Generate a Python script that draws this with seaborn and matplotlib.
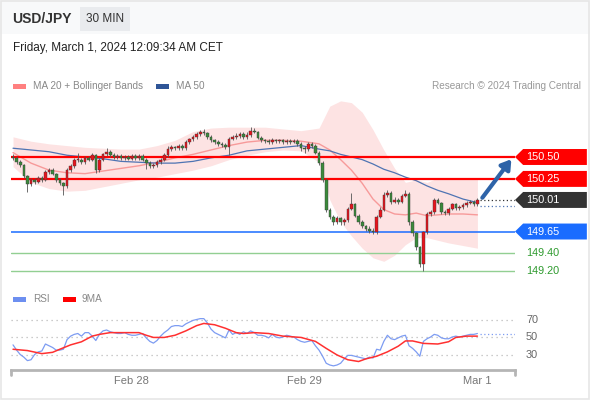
import numpy as np
import pandas as pd
import matplotlib.pyplot as plt
from matplotlib.patches import Polygon, Rectangle
import seaborn as sns

sns.set_style("white")
plt.rcParams['font.family'] = ['Liberation Sans', 'DejaVu Sans']

# ---- data (30 min candles, Feb 27 07:30 -> Mar 1 00:00) ----
first_open = 150.50
closes = [150.49, 150.44, 150.41, 150.28, 150.19, 150.24, 150.21, 150.26, 150.24, 150.33,
          150.35, 150.31, 150.24, 150.20, 150.17, 150.35, 150.40, 150.47, 150.47, 150.44,
          150.49, 150.47, 150.52, 150.35, 150.47, 150.53, 150.56, 150.52, 150.50, 150.51,
          150.49, 150.50, 150.48, 150.51, 150.49, 150.51, 150.47, 150.43, 150.40, 150.41,
          150.44, 150.47, 150.52, 150.59, 150.61, 150.60, 150.63, 150.60, 150.67, 150.70,
          150.73, 150.76, 150.79, 150.77, 150.73, 150.69, 150.67, 150.65, 150.64, 150.61,
          150.71, 150.73, 150.74, 150.76, 150.73, 150.75, 150.80, 150.79, 150.72, 150.69,
          150.68, 150.67, 150.69, 150.68, 150.69, 150.67, 150.68, 150.67, 150.68, 150.65,
          150.60, 150.59, 150.65, 150.63, 150.55, 150.43, 150.24, 149.90, 149.82, 149.76,
          149.80, 149.76, 149.78, 149.91, 149.96, 149.83, 149.76, 149.71, 149.68, 149.66,
          149.64, 149.82, 149.90, 150.07, 150.09, 149.99, 150.01, 149.99, 150.06, 150.08,
          149.76, 149.63, 149.47, 149.28, 149.64, 149.85, 149.87, 150.01, 149.98, 149.87,
          149.86, 149.91, 149.96, 149.92, 149.93, 149.95, 149.98, 149.99, 149.96, 150.01]
highs = [150.53, 150.51, 150.46, 150.42, 150.30, 150.26, 150.26, 150.28, 150.28, 150.35,
         150.38, 150.37, 150.32, 150.26, 150.21, 150.37, 150.42, 150.49, 150.54, 150.49,
         150.51, 150.51, 150.54, 150.53, 150.49, 150.55, 150.60, 150.58, 150.54, 150.53,
         150.53, 150.52, 150.52, 150.53, 150.53, 150.53, 150.53, 150.49, 150.45, 150.43,
         150.46, 150.49, 150.54, 150.62, 150.64, 150.63, 150.65, 150.65, 150.69, 150.72,
         150.75, 150.78, 150.81, 150.82, 150.79, 150.75, 150.71, 150.69, 150.67, 150.66,
         150.73, 150.75, 150.77, 150.79, 150.78, 150.78, 150.84, 150.83, 150.80, 150.74,
         150.71, 150.70, 150.72, 150.71, 150.71, 150.71, 150.70, 150.70, 150.70, 150.70,
         150.67, 150.62, 150.67, 150.67, 150.65, 150.57, 150.45, 150.26, 149.92, 149.84,
         149.83, 149.82, 149.80, 149.93, 150.09, 149.98, 149.85, 149.78, 149.73, 149.71,
         149.69, 149.84, 149.93, 150.10, 150.12, 150.11, 150.04, 150.03, 150.08, 150.12,
         150.10, 149.78, 149.65, 149.49, 149.66, 149.87, 149.90, 150.03, 150.03, 149.99,
         149.89, 149.93, 149.98, 149.98, 149.95, 149.97, 150.00, 150.01, 150.01, 150.03]
lows = [150.46, 150.42, 150.39, 150.26, 150.10, 150.17, 150.19, 150.20, 150.22, 150.23,
        150.31, 150.29, 150.22, 150.18, 150.07, 150.15, 150.33, 150.38, 150.44, 150.42,
        150.42, 150.45, 150.45, 150.32, 150.33, 150.45, 150.51, 150.50, 150.48, 150.48,
        150.47, 150.47, 150.46, 150.46, 150.47, 150.47, 150.45, 150.36, 150.38, 150.37,
        150.39, 150.42, 150.45, 150.50, 150.57, 150.58, 150.58, 150.58, 150.58, 150.65,
        150.68, 150.71, 150.74, 150.75, 150.71, 150.67, 150.65, 150.63, 150.61, 150.59,
        150.52, 150.69, 150.71, 150.72, 150.71, 150.71, 150.73, 150.77, 150.70, 150.67,
        150.66, 150.65, 150.65, 150.66, 150.66, 150.65, 150.65, 150.65, 150.66, 150.63,
        150.57, 150.55, 150.57, 150.60, 150.53, 150.41, 150.21, 149.87, 149.79, 149.73,
        149.74, 149.73, 149.73, 149.76, 149.89, 149.81, 149.74, 149.69, 149.66, 149.63,
        149.62, 149.62, 149.80, 149.88, 150.04, 149.96, 149.97, 149.96, 149.97, 150.04,
        149.73, 149.60, 149.44, 149.24, 149.20, 149.62, 149.83, 149.85, 149.96, 149.85,
        149.84, 149.84, 149.89, 149.90, 149.90, 149.91, 149.93, 149.96, 149.94, 149.94]

# overlays read at a subset of candles
ov_idx = [0, 5, 10, 15, 20, 25, 30, 35, 40, 45, 50, 55, 60, 65, 70, 75, 80, 85, 88, 91,
          94, 97, 100, 103, 106, 109, 112, 115, 118, 121, 125, 129]
ma20 = [150.55, 150.43, 150.35, 150.32, 150.31, 150.34, 150.37, 150.40, 150.44, 150.49,
        150.53, 150.58, 150.63, 150.67, 150.69, 150.69, 150.68, 150.65, 150.58, 150.47,
        150.35, 150.20, 150.02, 149.90, 149.85, 149.84, 149.86, 149.83, 149.84, 149.85,
        149.85, 149.84]
ma50 = [150.60, 150.58, 150.56, 150.52, 150.50, 150.48, 150.45, 150.44, 150.43, 150.43,
        150.45, 150.49, 150.52, 150.57, 150.59, 150.61, 150.63, 150.59, 150.57, 150.53,
        150.50, 150.47, 150.42, 150.36, 150.32, 150.27, 150.23, 150.17, 150.12, 150.08,
        150.02, 149.98]
bb_upper = [150.73, 150.68, 150.65, 150.63, 150.61, 150.60, 150.59, 150.59, 150.63, 150.69,
            150.79, 150.83, 150.84, 150.84, 150.84, 150.82, 150.80, 150.83, 151.08, 151.14,
            151.12, 151.01, 150.81, 150.58, 150.37, 150.21, 150.24, 150.21, 150.26, 150.26,
            150.26, 150.26]
bb_lower = [150.39, 150.21, 150.14, 150.11, 150.12, 150.16, 150.20, 150.24, 150.27, 150.31,
            150.35, 150.40, 150.47, 150.52, 150.56, 150.58, 150.57, 150.44, 150.01, 149.76,
            149.60, 149.46, 149.35, 149.31, 149.38, 149.50, 149.58, 149.58, 149.55, 149.52,
            149.49, 149.46]

rsi = [41, 35, 30, 27, 23, 24, 30, 33, 34, 42, 40, 38, 35, 35, 36, 47, 51, 53, 54, 51,
       55, 55, 51, 46, 53, 57, 58, 56, 55, 54, 54, 55, 53, 52, 52, 53, 54, 49, 45, 43,
       46, 51, 55, 58, 62, 63, 63, 62, 65, 67, 69, 70, 71, 71, 66, 59, 55, 53, 51, 49,
       58, 53, 55, 53, 56, 54, 57, 55, 52, 52, 51, 49, 53, 50, 49, 50, 52, 51, 50, 47,
       45, 44, 45, 46, 40, 35, 28, 20, 18, 17, 18, 20, 25, 29, 29, 28, 27, 26, 25, 27,
       26, 36, 35, 45, 52, 48, 47, 49, 51, 52, 40, 37, 33, 28, 45, 48, 50, 53, 52, 49,
       48, 48, 50, 51, 50, 51, 52, 53, 53, 54]
ma9_idx = [0, 4, 8, 11, 13, 16, 19, 22, 24, 27, 30, 33, 35, 37, 39, 42, 45, 48, 51, 53,
           56, 59, 62, 64, 67, 71, 75, 80, 84, 87, 90, 93, 96, 98, 101, 104, 107, 109, 111, 114,
           118, 121, 123, 126, 129]
ma9 = [36, 34.5, 31, 32.5, 36, 41, 44.5, 51, 53, 55, 55, 55, 55, 52, 49.5, 49.5, 52, 57, 63, 65.5,
       64, 60, 55, 54, 55, 54, 51, 49.5, 45, 37, 29.5, 24, 22, 25, 28, 33, 39.5, 45.5, 45.5, 42.7,
       42, 44.6, 49.5, 51, 51]

levels = [150.50, 150.25, 150.01, 149.65, 149.40, 149.20]
level_kind = ['res', 'res', 'last', 'sup', 'sup2', 'sup2']
tick_pos = [33, 81, 129]
tick_labels = ['Feb 28', 'Feb 29', 'Mar 1']

candles = pd.DataFrame({'close': closes, 'high': highs, 'low': lows})
candles['open'] = [first_open] + closes[:-1]
candles['idx'] = np.arange(len(candles))
ov = pd.DataFrame({'idx': ov_idx, 'ma20': ma20, 'ma50': ma50, 'up': bb_upper, 'lo': bb_lower})

W, H = 590, 400
fig = plt.figure(figsize=(5.9, 4.0), dpi=100)


def fx(x):
    return x / W


def fy(y):
    return 1 - y / H


# header strip
fig.patches.append(Rectangle((0, fy(34)), 1, 34 / H, transform=fig.transFigure,
                             facecolor='#f8f9fa', edgecolor='none', zorder=0))
fig.patches.append(Rectangle((fx(80), fy(31)), 50 / W, 24 / H, transform=fig.transFigure,
                             facecolor='#e9ebee', edgecolor='none', zorder=1))
fig.patches.append(Rectangle((0.001, 0.002), 0.997, 0.996, transform=fig.transFigure,
                             facecolor='none', edgecolor='#e6e6e6', lw=1.2, zorder=5))
fig.text(fx(12), fy(19), 'USD/JPY', fontsize=10, fontweight='bold', color='#333333', va='center')
fig.text(fx(105), fy(19), '30 MIN', fontsize=8.5, color='#333333', va='center', ha='center')
fig.text(fx(13), fy(48), 'Friday, March 1, 2024 12:09:34 AM CET', fontsize=8.5,
         color='#222222', va='center')

# legends
fig.patches.append(Rectangle((fx(13), fy(88.5)), 13 / W, 5 / H, transform=fig.transFigure,
                             facecolor='#ff8080', edgecolor='none'))
fig.text(fx(33), fy(86), 'MA 20 + Bollinger Bands', fontsize=7.2, color='#888888', va='center')
fig.patches.append(Rectangle((fx(156), fy(88.5)), 13 / W, 5 / H, transform=fig.transFigure,
                             facecolor='#2f5597', edgecolor='none'))
fig.text(fx(176), fy(86), 'MA 50', fontsize=7.2, color='#888888', va='center')
fig.text(fx(581), fy(86), 'Research \u00a9 2024 Trading Central', fontsize=7.2,
         color='#999999', va='center', ha='right')

fig.patches.append(Rectangle((fx(13), fy(301.5)), 13 / W, 5 / H, transform=fig.transFigure,
                             facecolor='#6d8ff0', edgecolor='none'))
fig.text(fx(33), fy(299), 'RSI', fontsize=7.2, color='#888888', va='center')
fig.patches.append(Rectangle((fx(63), fy(301.5)), 13 / W, 5 / H, transform=fig.transFigure,
                             facecolor='#ff0000', edgecolor='none'))
fig.text(fx(82), fy(299), '9MA', fontsize=7.2, color='#888888', va='center')

# ---- price panel ----
ax = fig.add_axes([fx(11), fy(285), 504 / W, 190 / H])
ax.set_xlim(-0.56, 139.44)
ax.set_ylim(149.04, 151.207)
ax.axis('off')

ax.fill_between(ov['idx'], ov['lo'], ov['up'], color='#fde3e3', lw=0, zorder=1)
sns.lineplot(data=ov, x='idx', y='ma20', ax=ax, color='#f79a9a', lw=1.0, zorder=2)
sns.lineplot(data=ov, x='idx', y='ma50', ax=ax, color='#4f74b3', lw=0.9, zorder=2)

colors = {'res': '#ff0000', 'last': '#333333', 'sup': '#1a6cff', 'sup2': '#2e9a2e'}
for lv, kind in zip(levels, level_kind):
    if kind == 'res':
        ax.axhline(lv, color='#ff0000', lw=1.6, zorder=3)
    elif kind == 'sup':
        ax.axhline(lv, color='#1a6cff', lw=1.1, zorder=3)
    elif kind == 'sup2':
        ax.axhline(lv, color='#92cf92', lw=1.0, zorder=3)

# candles (red = up, green = down)
up = candles['close'] >= candles['open']
body_lo = candles[['open', 'close']].min(axis=1)
body_h = (candles['close'] - candles['open']).abs().clip(lower=0.008)
ax.vlines(candles['idx'], candles['low'], candles['high'], color='#555555', lw=0.6, zorder=4)
ax.bar(candles['idx'], body_h, bottom=body_lo, width=0.72,
       color=np.where(up, '#e8141c', '#3b8a3b'), edgecolor='#3a3a3a', lw=0.3, zorder=5)

# dotted extensions and arrow
last = len(candles) - 1
ax.plot([last + 0.6, 139.4], [150.01, 150.01], ls=(0, (1, 2)), color='#333333', lw=0.9)
ax.plot([last + 0.6, 139.4], [149.94, 149.94], ls=(0, (1, 2)), color='#4f74b3', lw=0.9)
ax.annotate('', xy=(138.9, 150.50), xytext=(129.9, 150.01),
            arrowprops=dict(arrowstyle='-|>,head_length=0.55,head_width=0.35',
                            color='#2e63a8', lw=3), zorder=6)

# right-hand tags
h = 0.091
for lv, kind in zip(levels, level_kind):
    c = colors[kind]
    if kind == 'sup2':
        ax.text(142.5, lv, f'{lv:.2f}', color=c, fontsize=7.8, va='center', ha='left',
                clip_on=False)
        continue
    poly = Polygon([(139.44, lv), (141.7, lv + h), (159.4, lv + h), (159.4, lv - h),
                    (141.7, lv - h)], closed=True, facecolor=c, edgecolor='none',
                   clip_on=False, zorder=6)
    ax.add_patch(poly)
    ax.text(142.5, lv, f'{lv:.2f}', color='white', fontsize=7.8, va='center', ha='left',
            clip_on=False, zorder=7)

# ---- RSI panel ----
rax = fig.add_axes([fx(11), fy(370), 504 / W, 60 / H])
rax.set_xlim(-0.56, 139.44)
rax.set_ylim(12.29, 80.86)
for v in [30, 50, 70]:
    rax.axhline(v, ls=(0, (1, 3)), color='#bbbbbb', lw=0.9)
    rax.text(142.5, v, str(v), color='#666666', fontsize=7.8, va='center', ha='left',
             clip_on=False)

rsi_df = pd.DataFrame({'idx': np.arange(len(rsi)), 'rsi': rsi})
ma9_df = pd.DataFrame({'idx': ma9_idx, 'ma9': ma9})
sns.lineplot(data=rsi_df, x='idx', y='rsi', ax=rax, color='#7d9cf2', lw=0.9)
sns.lineplot(data=ma9_df, x='idx', y='ma9', ax=rax, color='#ff3030', lw=1.1)
rax.plot([last + 0.6, 139.4], [rsi[-1], rsi[-1]], ls=(0, (1, 2)), color='#7d9cf2', lw=0.9)

for s in ['top', 'left', 'right']:
    rax.spines[s].set_visible(False)
rax.spines['bottom'].set_color('#b5b5b5')
rax.spines['bottom'].set_linewidth(2)
rax.set_yticks([])
rax.set_xticks(tick_pos)
rax.set_xticklabels(tick_labels)
rax.tick_params(axis='x', length=0, pad=4, labelsize=8, labelcolor='#777777')
rax.set_xlabel('')
rax.set_ylabel('')
for xe in rax.get_xlim():
    rax.plot([xe, xe], [0, -0.08], transform=rax.get_xaxis_transform(), color='#b5b5b5',
             lw=2, clip_on=False)

fig.savefig('out.png', dpi=100)
